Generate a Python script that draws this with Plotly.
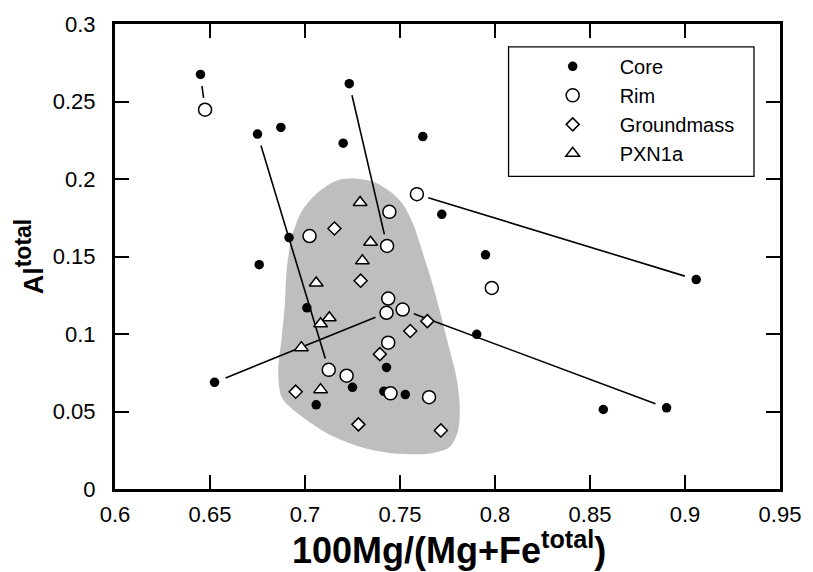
import math
import plotly.graph_objects as go

# ---------------- data ----------------
core_x = [0.645, 0.675, 0.6873, 0.7233, 0.7201, 0.762, 0.772, 0.6916, 0.6759, 0.795,
          0.701, 0.7904, 0.7429, 0.725, 0.7415, 0.7528, 0.7059, 0.6524, 0.857, 0.8903, 0.9059]
core_y = [0.2675, 0.229, 0.2333, 0.2615, 0.2231, 0.2274, 0.1772, 0.1622, 0.1447, 0.1511,
          0.1169, 0.0998, 0.0784, 0.0656, 0.063, 0.0609, 0.0543, 0.0688, 0.0513, 0.0524, 0.1351]

rim_x = [0.6474, 0.7589, 0.7444, 0.7024, 0.7432, 0.7983, 0.7438, 0.7429, 0.7514, 0.7438,
         0.7125, 0.7219, 0.745, 0.7653]
rim_y = [0.2447, 0.1902, 0.1788, 0.1632, 0.1568, 0.1297, 0.1229, 0.1137, 0.1158, 0.0944,
         0.0769, 0.0731, 0.0617, 0.0592]

gm_x = [0.7155, 0.7293, 0.7644, 0.7554, 0.7394, 0.6951, 0.7281, 0.7715]
gm_y = [0.1681, 0.1344, 0.1083, 0.1019, 0.087, 0.0628, 0.0417, 0.0378]

px_x = [0.729, 0.7345, 0.7302, 0.7059, 0.7128, 0.7082, 0.6981, 0.7082]
px_y = [0.1848, 0.1592, 0.1472, 0.1329, 0.1105, 0.1066, 0.0912, 0.0641]

# core -> rim tie lines
tie_x0 = [0.645, 0.675, 0.7233, 0.7589, 0.6524, 0.7514]
tie_y0 = [0.2675, 0.229, 0.2615, 0.1902, 0.0688, 0.1158]
tie_x1 = [0.6474, 0.7125, 0.7432, 0.9059, 0.7429, 0.8903]
tie_y1 = [0.2447, 0.0769, 0.1568, 0.1351, 0.1137, 0.0524]

# shaded field outline
field_x = [0.712, 0.7189, 0.7276, 0.7363, 0.745, 0.7519, 0.7571, 0.7623, 0.7667, 0.771,
           0.7754, 0.7797, 0.7814, 0.7806, 0.7762, 0.7658, 0.7467, 0.7293, 0.712, 0.6964,
           0.6877, 0.6859, 0.6877, 0.6894, 0.6903, 0.6929, 0.6981, 0.7051, 0.712]
field_y = [0.196, 0.1998, 0.2002, 0.1981, 0.1917, 0.1831, 0.1703, 0.1511, 0.134, 0.1147,
           0.0934, 0.072, 0.0549, 0.0378, 0.0271, 0.0229, 0.0229, 0.0271, 0.0357, 0.0485,
           0.0592, 0.0763, 0.0976, 0.119, 0.1404, 0.1617, 0.1788, 0.1895, 0.196]

x_range = [0.6, 0.95]
y_range = [0, 0.3]

x_title = "<b>100Mg/(Mg+Fe<sup>total</sup>)</b>"
y_title = "<b>Al<sup><span style='font-size:23px'>total</span></sup></b>"

# ---------------- layout geometry ----------------
W, H = 813, 572
ML, MR, MT, MB = 115, 26, 21, 83
PW, PH = W - ML - MR, H - MT - MB
kx = PW / (x_range[1] - x_range[0])
ky = PH / (y_range[1] - y_range[0])
TRIM = 12  # px gap between line ends and markers

lx, ly = [], []
for a, b, c, d in zip(tie_x0, tie_y0, tie_x1, tie_y1):
    dxp, dyp = (c - a) * kx, (d - b) * ky
    L = math.hypot(dxp, dyp)
    f = TRIM / L
    lx += [a + (c - a) * f, c - (c - a) * f, None]
    ly += [b + (d - b) * f, d - (d - b) * f, None]

FONT = "Liberation Sans, Arial, Helvetica, sans-serif"

fig = go.Figure()
fig.add_trace(go.Scatter(x=field_x, y=field_y, mode="lines", fill="toself",
                         line=dict(color="rgba(0,0,0,0)", shape="spline", smoothing=0.8),
                         fillcolor="rgb(190,190,190)", showlegend=False, hoverinfo="skip"))
fig.add_trace(go.Scatter(x=lx, y=ly, mode="lines", line=dict(color="black", width=1.6),
                         showlegend=False, hoverinfo="skip"))

fig.add_trace(go.Scatter(x=core_x, y=core_y, mode="markers", name="Core", legendrank=1,
                         marker=dict(symbol="circle", size=9.5, color="black",
                                     line=dict(color="black", width=0))))
fig.add_trace(go.Scatter(x=gm_x, y=gm_y, mode="markers", name="Groundmass", legendrank=3,
                         marker=dict(symbol="diamond", size=10, color="white",
                                     line=dict(color="black", width=1.5))))
fig.add_trace(go.Scatter(x=px_x, y=px_y, mode="markers", name="PXN1a", legendrank=4,
                         marker=dict(symbol="triangle-up", size=12, color="white",
                                     line=dict(color="black", width=1.5))))
fig.add_trace(go.Scatter(x=rim_x, y=rim_y, mode="markers", name="Rim", legendrank=2,
                         marker=dict(symbol="circle", size=13, color="white",
                                     line=dict(color="black", width=1.5))))

axis_common = dict(showgrid=False, zeroline=False, showline=True, linecolor="black",
                   linewidth=3, mirror="ticks", ticks="inside", ticklen=14, tickwidth=1.5,
                   tickcolor="black", tickfont=dict(family=FONT, size=22, color="black"))

# legend frame (paper coords)
box_l, box_r, box_t, box_b = 512.7, 760.7, 44, 174.3
fig.add_shape(type="rect", xref="paper", yref="paper",
              x0=(box_l - ML) / PW, x1=(box_r - ML) / PW,
              y0=(MT + PH - box_b) / PH, y1=(MT + PH - box_t) / PH,
              line=dict(color="black", width=1.3), fillcolor="white", layer="below")

# x-axis title as an annotation (placed like the reference)
fig.add_annotation(text=x_title, xref="paper", yref="paper",
                   x=(453 - ML) / PW, y=(MT + PH - 548) / PH,
                   xanchor="center", yanchor="middle", showarrow=False,
                   font=dict(family=FONT, size=36, color="black"))

fig.update_layout(
    width=W, height=H, margin=dict(l=ML, r=MR, t=MT, b=MB, pad=0),
    paper_bgcolor="white", plot_bgcolor="white",
    font=dict(family=FONT, color="black"),
    xaxis=dict(range=x_range, dtick=0.05, tick0=0.6, ticklabelstandoff=4, **axis_common),
    yaxis=dict(range=y_range, dtick=0.05, tick0=0, ticklabelstandoff=12,
               title=dict(text=y_title,
                          font=dict(family=FONT, size=27, color="black"), standoff=2),
               **axis_common),
    legend=dict(x=(530 - ML) / PW, y=(MT + PH - box_t) / PH, xanchor="left", yanchor="top",
                borderwidth=0, bgcolor="rgba(0,0,0,0)",
                font=dict(family=FONT, size=20, color="black"), itemwidth=84,
                tracegroupgap=0),
    showlegend=True,
)

fig.write_html("out.html")
